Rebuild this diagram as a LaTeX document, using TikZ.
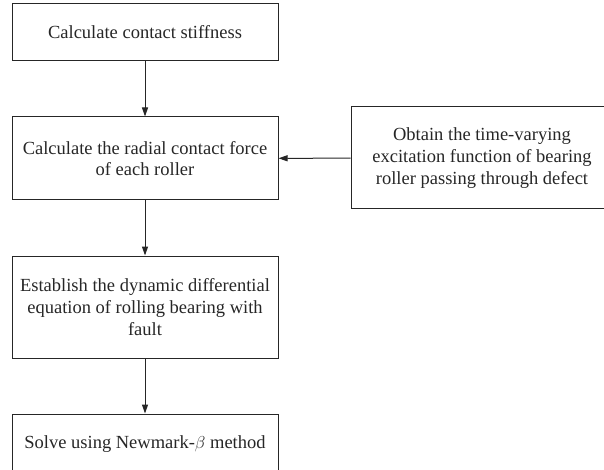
\documentclass[tikz,border=0pt]{standalone}
\usepackage{fontspec}
\setmainfont{Liberation Serif}
\usetikzlibrary{arrows.meta}
\begin{document}
\begin{tikzpicture}[x=1pt,y=-1pt,
box/.style={draw=black!85,line width=1pt,align=center,minimum width=266pt,inner sep=2pt,
  font=\fontsize{18.5}{21.7}\selectfont,text=black!85},
arr/.style={draw=black!85,line width=1pt,-{Triangle[length=9pt,width=6pt]}}]
\useasboundingbox (0,0) rectangle (604,470);
\node[box,minimum height=57pt] (stiff) at (145,32.5) {Calculate contact stiffness};
\node[box,minimum height=83pt] (force) at (145,158.5) {Calculate the radial contact force\\of each roller};
\node[box,minimum height=102pt] (eqn) at (145,307) {Establish the dynamic differential\\equation of rolling bearing with\\fault};
\node[box,minimum height=60pt] (solve) at (145,444) {Solve using Newmark-$\beta$ method};

\node[box,minimum width=262pt,minimum height=102pt] (excit) at (482,158) {Obtain the time-varying\\excitation function of bearing\\roller passing through defect};

\draw[arr] (stiff) -- (force);
\draw[arr] (force) -- (eqn);
\draw[arr] (eqn) -- (solve);
\draw[arr] (excit) -- (force);
\end{tikzpicture}
\end{document}
